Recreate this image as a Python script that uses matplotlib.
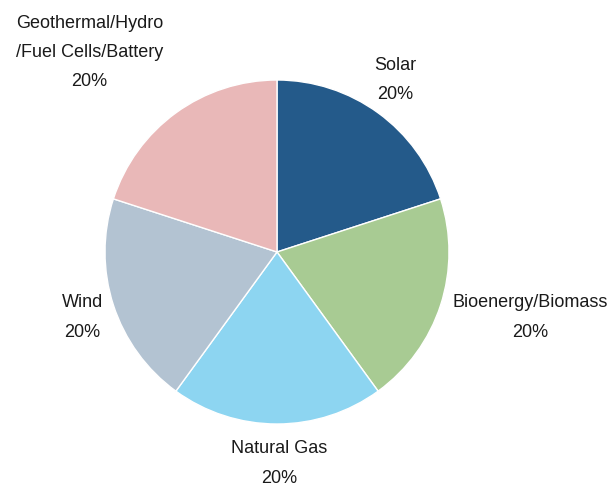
import numpy as np
import matplotlib
matplotlib.use("Agg")
import matplotlib.pyplot as plt

labels = ["Solar", "Bioenergy/Biomass", "Natural Gas", "Wind",
          "Geothermal/Hydro\n/Fuel Cells/Battery"]
shares = [20, 20, 20, 20, 20]
colors = ["#245a8a", "#a8cb93", "#8dd5f1", "#b3c3d2", "#e9b8b8"]

# label centres (data units, pie radius = 1)
label_xy = [(0.69, 1.0), (1.47, -0.38), (0.01, -1.23), (-1.13, -0.38), (-1.09, 1.16)]

plt.rcParams["font.family"] = ["Liberation Sans", "DejaVu Sans"]

fig = plt.figure(figsize=(6.14, 4.9), dpi=100)
ax = fig.add_axes([105 / 614, 66 / 490, 344 / 614, 344 / 490])
ax.pie(shares, colors=colors, startangle=90, counterclock=False, radius=1,
       wedgeprops=dict(edgecolor="white", linewidth=1))
ax.set_xlim(-1, 1); ax.set_ylim(-1, 1)
ax.set_aspect("equal")
for lab, v, (x, y) in zip(labels, shares, label_xy):
    ax.text(x, y, f"{lab}\n{v}%", ha="center", va="center", fontsize=13,
            linespacing=1.95, color="#1a1a1a", clip_on=False)
fig.savefig("out.png", dpi=100)
